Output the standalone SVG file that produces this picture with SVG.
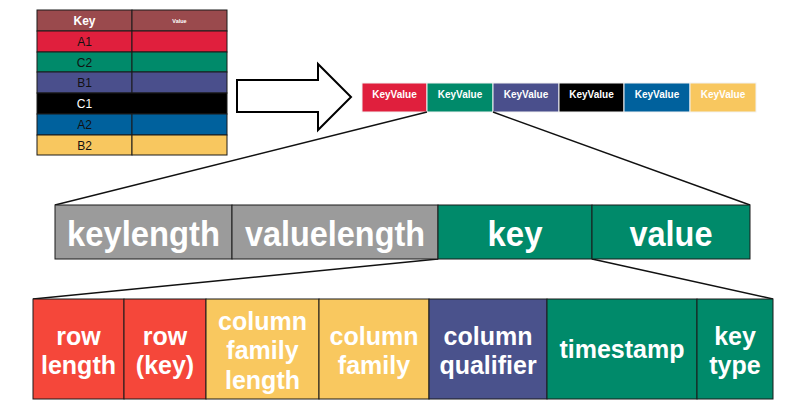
<svg xmlns="http://www.w3.org/2000/svg" width="796" height="412" viewBox="0 0 796 412">
  <style>
    text { font-family: "Liberation Sans", Arial, sans-serif; font-weight: bold; text-anchor: middle; }
    .cell { stroke: #1a1a1a; stroke-width: 1; }
    .tbl { font-size: 12px; fill: #111; font-weight: normal; }
    .kv { stroke: #f2f2f2; stroke-width: 1; }
    .kvt { font-size: 10px; fill: #fff; }
    .mid { font-size: 35px; fill: #fff; }
    .bot { font-size: 25px; fill: #fff; }
    .conn { stroke: #111; stroke-width: 1.4; fill: none; }
  </style>

  <!-- key/value table -->
  <g id="table">
    <rect class="cell" x="37" y="10" width="95" height="21" fill="#9a4a4d"/>
    <rect class="cell" x="132" y="10" width="95" height="21" fill="#9a4a4d"/>
    <rect class="cell" x="37" y="31" width="95" height="21" fill="#e01f3d"/>
    <rect class="cell" x="132" y="31" width="95" height="21" fill="#e01f3d"/>
    <rect class="cell" x="37" y="52" width="95" height="20" fill="#008a6a"/>
    <rect class="cell" x="132" y="52" width="95" height="20" fill="#008a6a"/>
    <rect class="cell" x="37" y="72" width="95" height="21" fill="#4a4f8c"/>
    <rect class="cell" x="132" y="72" width="95" height="21" fill="#4a4f8c"/>
    <rect class="cell" x="37" y="93" width="190" height="21" fill="#000"/>
    <rect class="cell" x="37" y="114" width="95" height="21" fill="#00619d"/>
    <rect class="cell" x="132" y="114" width="95" height="21" fill="#00619d"/>
    <rect class="cell" x="37" y="135" width="95" height="20" fill="#f8c75f"/>
    <rect class="cell" x="132" y="135" width="95" height="20" fill="#f8c75f"/>
    <text x="84.5" y="25" style="font-size:12px;fill:#fff">Key</text>
    <text x="179.5" y="23" style="font-size:5.5px;fill:#fff">Value</text>
    <text class="tbl" x="84.5" y="46">A1</text>
    <text class="tbl" x="84.5" y="66.5">C2</text>
    <text class="tbl" x="84.5" y="87">B1</text>
    <text class="tbl" x="84.5" y="108" style="fill:#fff">C1</text>
    <text class="tbl" x="84.5" y="129">A2</text>
    <text class="tbl" x="84.5" y="149.5">B2</text>
  </g>

  <!-- block arrow -->
  <g id="arrow">
    <polygon points="237,80 318,80 318,64 351,97 318,130 318,112 237,112" fill="#fff" stroke="#000" stroke-width="2"/>
  </g>

  <!-- sequence of KeyValue records -->
  <g id="kv-strip">
    <rect class="kv" x="362" y="83" width="65" height="29" fill="#e01f3d"/>
    <rect class="kv" x="427" y="83" width="66" height="29" fill="#008a6a"/>
    <rect class="kv" x="493" y="83" width="66" height="29" fill="#4a4f8c"/>
    <rect class="kv" x="559" y="83" width="65" height="29" fill="#000"/>
    <rect class="kv" x="624" y="83" width="66" height="29" fill="#00619d"/>
    <rect class="kv" x="690" y="83" width="66" height="29" fill="#f8c75f"/>
    <text class="kvt" x="394.5" y="97.5">KeyValue</text>
    <text class="kvt" x="460" y="97.5">KeyValue</text>
    <text class="kvt" x="526" y="97.5">KeyValue</text>
    <text class="kvt" x="591.5" y="97.5">KeyValue</text>
    <text class="kvt" x="657" y="97.5">KeyValue</text>
    <text class="kvt" x="723" y="97.5">KeyValue</text>
  </g>

  <!-- expansion lines -->
  <g id="connectors">
    <line class="conn" x1="427" y1="112" x2="55" y2="205"/>
    <line class="conn" x1="493" y1="112" x2="750" y2="205"/>
    <line class="conn" x1="438" y1="259" x2="33" y2="299"/>
    <line class="conn" x1="592" y1="259" x2="773" y2="299"/>
  </g>

  <!-- KeyValue layout -->
  <g id="keyvalue">
    <rect class="cell" x="55" y="205" width="177" height="54" fill="#9b9b9b"/>
    <rect class="cell" x="232" y="205" width="206" height="54" fill="#9b9b9b"/>
    <rect class="cell" x="438" y="205" width="154" height="54" fill="#008a6a"/>
    <rect class="cell" x="592" y="205" width="158" height="54" fill="#008a6a"/>
    <text class="mid" x="143.5" y="246" textLength="153" lengthAdjust="spacingAndGlyphs">keylength</text>
    <text class="mid" x="335" y="246" textLength="180" lengthAdjust="spacingAndGlyphs">valuelength</text>
    <text class="mid" x="515" y="246" textLength="55" lengthAdjust="spacingAndGlyphs">key</text>
    <text class="mid" x="671" y="246" textLength="83" lengthAdjust="spacingAndGlyphs">value</text>
  </g>

  <!-- key layout -->
  <g id="key">
    <rect class="cell" x="33" y="299" width="91" height="100" fill="#f5473a"/>
    <rect class="cell" x="124" y="299" width="82" height="100" fill="#f5473a"/>
    <rect class="cell" x="206" y="299" width="113" height="100" fill="#f9c85f"/>
    <rect class="cell" x="319" y="299" width="110" height="100" fill="#f9c85f"/>
    <rect class="cell" x="429" y="299" width="118" height="100" fill="#4a528c"/>
    <rect class="cell" x="547" y="299" width="150" height="100" fill="#008a6a"/>
    <rect class="cell" x="697" y="299" width="76" height="100" fill="#008a6a"/>
    <text class="bot" x="78.5" y="345">row</text>
    <text class="bot" x="78.5" y="374">length</text>
    <text class="bot" x="165" y="345">row</text>
    <text class="bot" x="165" y="374">(key)</text>
    <text class="bot" x="262.5" y="329.5">column</text>
    <text class="bot" x="262.5" y="359">family</text>
    <text class="bot" x="262.5" y="388.5">length</text>
    <text class="bot" x="374" y="345">column</text>
    <text class="bot" x="374" y="374">family</text>
    <text class="bot" x="488" y="345">column</text>
    <text class="bot" x="488" y="374">qualifier</text>
    <text class="bot" x="622" y="358">timestamp</text>
    <text class="bot" x="735" y="345">key</text>
    <text class="bot" x="735" y="374">type</text>
  </g>
</svg>
